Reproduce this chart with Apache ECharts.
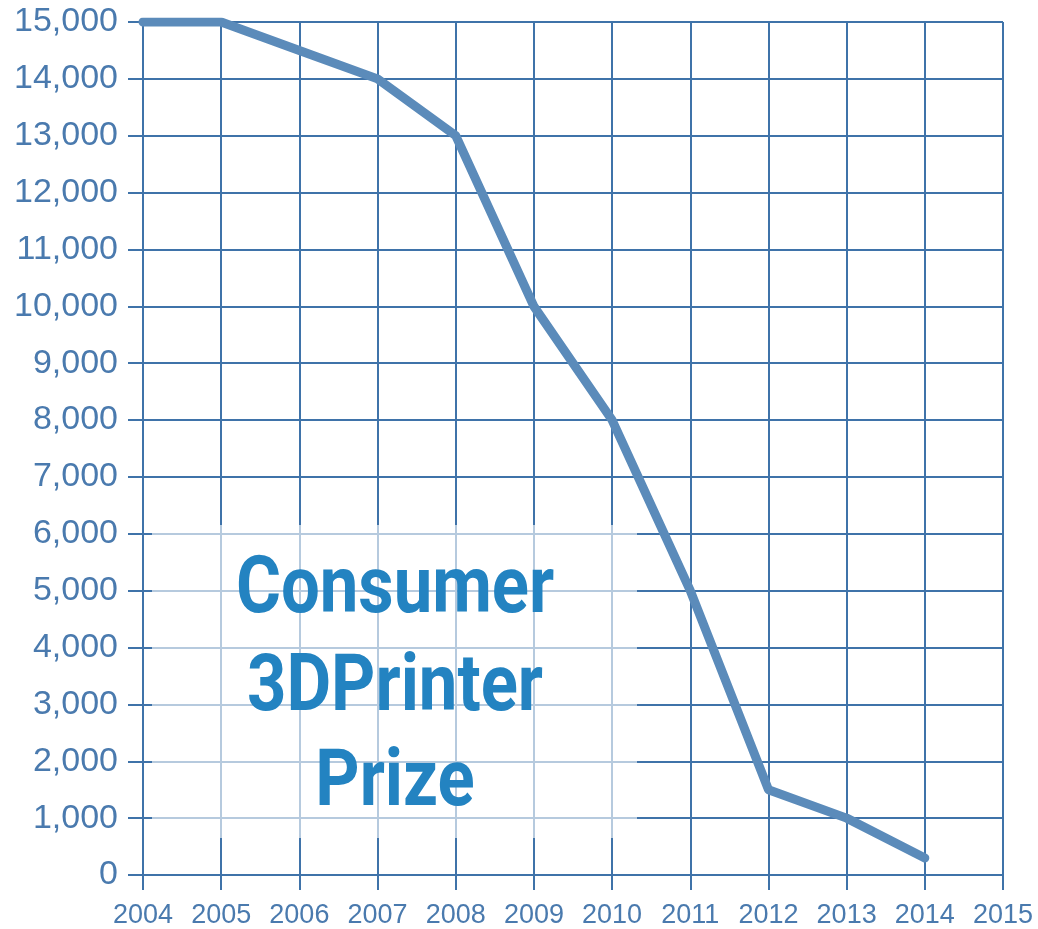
<!DOCTYPE html>
<html>
<head>
<meta charset="utf-8">
<script src="https://cdn.jsdelivr.net/npm/echarts@6/dist/echarts.min.js"></script>
<style>html,body{margin:0;padding:0;background:#fff;}#c{width:1038px;height:929px;}</style>
</head>
<body>
<div id="c"></div>
<script>
const years = [2004, 2005, 2006, 2007, 2008, 2009, 2010, 2011, 2012, 2013, 2014];
const prices = [15000, 15000, 14500, 14000, 13000, 10000, 8000, 5000, 1500, 1000, 300];
const titleLines = ['Consumer', '3DPrinter', 'Prize'];

const gridColor = '#3f73a9';
const labelColor = '#4a7aae';
const chart = echarts.init(document.getElementById('c'));
const G = {left: 143, right: 35, top: 22, bottom: 52};

chart.setOption({
  backgroundColor: '#ffffff',
  animation: false,
  grid: G,
  xAxis: {
    type: 'value', min: 2004, max: 2015, interval: 1,
    axisLine: {show: true, onZero: false, lineStyle: {color: gridColor, width: 2}},
    axisTick: {show: true, inside: false, length: 15, lineStyle: {color: gridColor, width: 2}},
    splitLine: {show: true, lineStyle: {color: gridColor, width: 2}},
    axisLabel: {color: labelColor, fontSize: 27, fontFamily: 'Liberation Sans', margin: 27,
      formatter: v => String(v)}
  },
  yAxis: {
    type: 'value', min: 0, max: 15000, interval: 1000,
    axisLine: {show: true, onZero: false, lineStyle: {color: gridColor, width: 2}},
    axisTick: {show: true, inside: false, length: 15, lineStyle: {color: gridColor, width: 2}},
    splitLine: {show: true, lineStyle: {color: gridColor, width: 2}},
    axisLabel: {color: labelColor, fontSize: 34, fontFamily: 'Liberation Sans', margin: 25,
      formatter: v => v.toLocaleString('en-US')}
  },
  series: [{
    type: 'line',
    data: years.map((y, i) => [y, prices[i]]),
    showSymbol: false,
    lineStyle: {color: '#5b8bba', width: 9, cap: 'round', join: 'round'},
    z: 3
  }],
  graphic: [
    {type: 'rect', shape: {x: 152, y: 525, width: 485, height: 313},
     style: {fill: 'rgba(255,255,255,0.62)'}, z: 1},
    ...titleLines.map((t, i) => ({
      type: 'text', x: 395, y: [592, 690, 785][i], scaleX: 0.86, z: 10,
      style: {text: t, x: 0, y: 0, align: 'center', verticalAlign: 'middle',
        font: 'bold 80px Roboto', fill: '#2383c1'}
    }))
  ]
});
</script>
</body>
</html>
